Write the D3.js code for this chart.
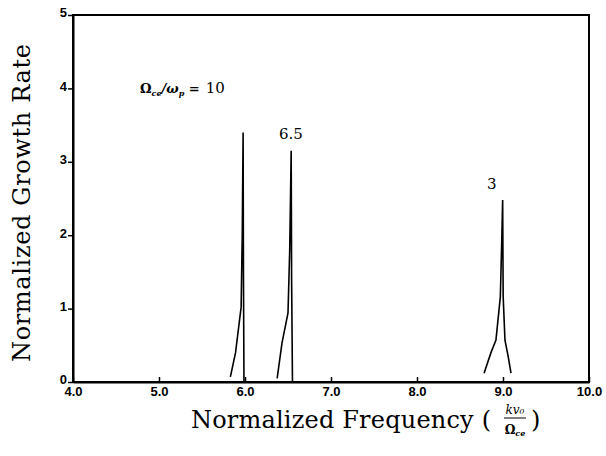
<!DOCTYPE html>
<html>
<head>
<meta charset="utf-8">
<script src="https://cdn.jsdelivr.net/npm/d3@7"></script>
<style>
  body { margin: 0; background: #fff; }
  .tick text { font-family: "Liberation Sans", Arial, sans-serif; font-weight: bold; font-size: 13px; fill: #000; }
</style>
</head>
<body>
<div class="container"></div>
<script>
const xTicks = [4, 5, 6, 7, 8, 9, 10];
const yTicks = [0, 1, 2, 3, 4, 5];

// spike for Ωce/ωp = 10
const curve10 = [[5.83, 0.07], [5.89, 0.40], [5.955, 1.02], [5.968, 2.0], [5.978, 3.40], [5.982, 1.5], [5.988, 0]];
// spike for 6.5
const curve65 = [[6.374, 0.05], [6.43, 0.53], [6.50, 0.94], [6.52, 1.8], [6.537, 3.15], [6.542, 1.4], [6.552, 0]];
// spike for 3
const curve3 = [[8.78, 0.12], [8.86, 0.40], [8.918, 0.57], [8.969, 1.16], [8.985, 1.9], [8.996, 2.48],
                [9.0, 1.6], [9.002, 1.16], [9.023, 0.57], [9.06, 0.35], [9.093, 0.12]];

const curves = [curve10, curve65, curve3];

const width = 606, height = 456;
const margin = {left: 73, right: 17, top: 15, bottom: 74};

let svg = d3.select(".container")
  .append("svg")
  .attr("width", width)
  .attr("height", height);

let x = d3.scaleLinear().domain([4, 10]).range([margin.left, width - margin.right]);
let y = d3.scaleLinear().domain([0, 5]).range([height - margin.bottom, margin.top]);

// frame
svg.append("rect")
  .attr("x", x(4))
  .attr("y", y(5))
  .attr("width", x(10) - x(4))
  .attr("height", y(0) - y(5))
  .attr("fill", "none")
  .attr("stroke", "#000")
  .attr("stroke-width", 2);

let xAxis = svg.append("g")
  .attr("transform", `translate(0,${y(0)})`)
  .call(d3.axisBottom(x).tickValues(xTicks).tickFormat(d3.format(".1f")).tickSizeInner(-5).tickSizeOuter(0));
xAxis.select(".domain").attr("stroke-width", 2);
xAxis.selectAll(".tick line").attr("stroke-width", 1.5);
xAxis.selectAll(".tick text").attr("dy", "0.3em").attr("y", 10);

let yAxis = svg.append("g")
  .attr("transform", `translate(${x(4)},0)`)
  .call(d3.axisLeft(y).tickValues(yTicks).tickFormat(d3.format("d")).tickSizeInner(5).tickSizeOuter(0).tickPadding(1));
yAxis.select(".domain").attr("stroke-width", 2);
yAxis.selectAll(".tick line").attr("stroke-width", 1.5);
yAxis.selectAll(".tick text").attr("dy", "0.15em");

let line = d3.line()
  .x(d => x(d[0]))
  .y(d => y(d[1]));

svg.selectAll(".spike")
  .data(curves)
  .enter().append("path")
  .attr("class", "spike")
  .attr("d", line)
  .attr("fill", "none")
  .attr("stroke", "#000")
  .attr("stroke-width", 1.6);

// curve labels
const serif = "'DejaVu Serif', 'Liberation Serif', serif";
let lab = svg.append("text")
  .attr("x", 140)
  .attr("y", 93)
  .style("font-family", serif)
  .style("font-size", "13px");
lab.append("tspan").style("font-weight", "bold").text("Ω");
lab.append("tspan").attr("font-size", "8px").attr("dy", 3).style("font-style", "italic").style("font-weight", "bold").text("ce");
lab.append("tspan").attr("dy", -3).style("font-style", "italic").style("font-weight", "bold").text("/ω");
lab.append("tspan").attr("font-size", "8px").attr("dy", 3).style("font-style", "italic").style("font-weight", "bold").text("p");
lab.append("tspan").attr("dy", -3).style("font-weight", "bold").text(" =");
lab.append("tspan").attr("dx", 6).style("font-size", "15px").text("10");

svg.append("text")
  .attr("x", 279).attr("y", 139)
  .style("font-family", serif).style("font-size", "15px")
  .text("6.5");

svg.append("text")
  .attr("x", 487).attr("y", 189)
  .style("font-family", serif).style("font-size", "15px")
  .text("3");

// axis titles
svg.append("text")
  .attr("transform", "translate(30,203) rotate(-90)")
  .attr("text-anchor", "middle")
  .style("font-family", serif)
  .style("font-size", "24px")
  .attr("textLength", 318)
  .text("Normalized Growth Rate");

svg.append("text")
  .attr("x", 191)
  .attr("y", 428)
  .style("font-family", serif)
  .style("font-size", "24px")
  .attr("textLength", 300)
  .text("Normalized Frequency (");

svg.append("text")
  .attr("x", 515).attr("y", 414)
  .attr("text-anchor", "middle")
  .style("font-family", serif).style("font-size", "12px").style("font-style", "italic")
  .text("kv₀");
svg.append("line")
  .attr("x1", 504).attr("x2", 526)
  .attr("y1", 418).attr("y2", 418)
  .attr("stroke", "#000").attr("stroke-width", 1);
let den = svg.append("text")
  .attr("x", 515).attr("y", 434)
  .attr("text-anchor", "middle")
  .style("font-family", serif).style("font-size", "12px").style("font-weight", "bold");
den.append("tspan").text("Ω");
den.append("tspan").attr("font-size", "8px").attr("dy", 2).style("font-style", "italic").text("ce");
svg.append("text")
  .attr("x", 531).attr("y", 428)
  .style("font-family", serif).style("font-size", "24px")
  .text(")");
</script>
</body>
</html>
